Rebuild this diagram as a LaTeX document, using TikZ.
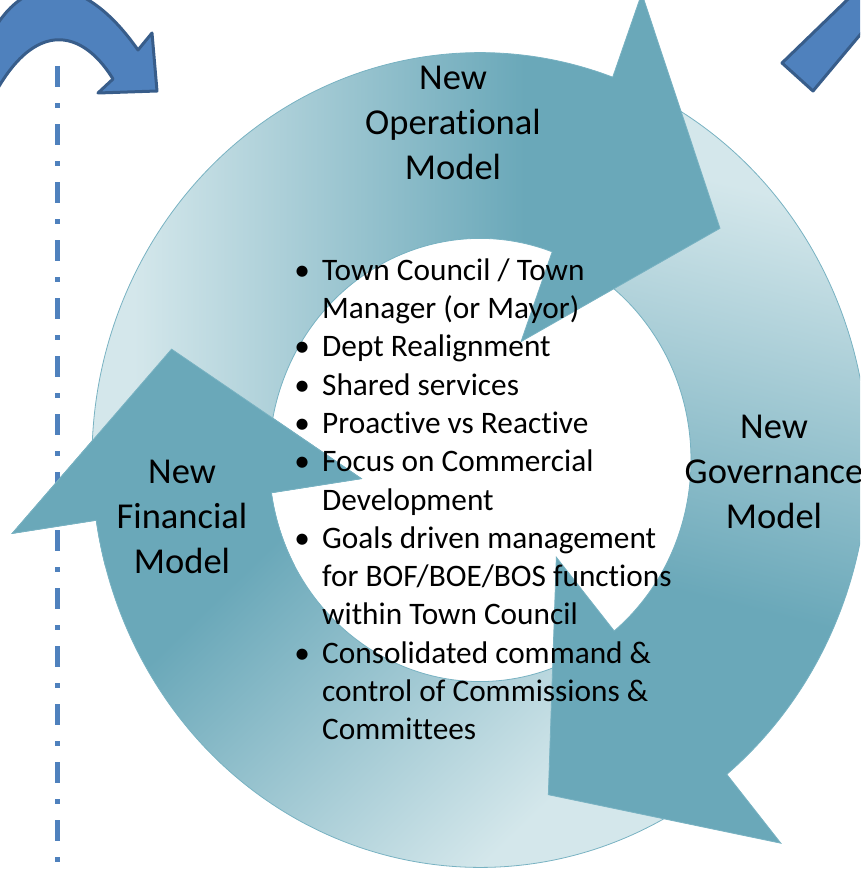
\documentclass[tikz,border=0pt]{standalone}
\usepackage{fontspec}
\setmainfont{Carlito}[Ligatures=NoCommon]
\usetikzlibrary{positioning}

\definecolor{ringlight}{RGB}{212,231,235}
\definecolor{ringteal}{RGB}{106,168,185}
\definecolor{ringedge}{RGB}{120,178,194}
\definecolor{sideblue}{RGB}{79,129,189}
\definecolor{sideedge}{RGB}{56,93,138}

\pgfdeclareverticalshading{arcfade}{100bp}{color(0bp)=(ringteal); color(40bp)=(ringteal); color(70bp)=(ringlight); color(100bp)=(ringlight)}

% one curved arrow of the cycle, #1 = angle of the head base
\newcommand{\ringarrow}[1]{%
  (#1+117:388) arc[start angle=#1+117, end angle=#1, radius=388]
  -- (#1:473) -- (#1-27.4:326) -- (#1:120) -- (#1:211)
  arc[start angle=#1, end angle=#1+117, radius=211] -- cycle}
\newcommand{\goalbullet}{\makebox[40pt]{\textbullet}}

\begin{document}
\begin{tikzpicture}[x=1pt, y=1pt,
  cyclearrow/.style={draw=ringedge, line width=0.8pt, shading=arcfade},
  modeltext/.style={font=\fontsize{36.5}{45}\selectfont, align=center, inner sep=0pt},
  bullets/.style={font=\fontsize{31.3}{38.3}\selectfont, inner sep=0pt},
  sidearrow/.style={fill=sideblue, draw=sideedge, line width=3pt, line join=round},
]
\useasboundingbox (0,0) rectangle (860,-875);
\clip (0,0) rectangle (860,-875);

% side arrows and timeline
\draw[sidearrow] (-20,-60) .. controls (10,25) and (75,40) .. (138,-50) -- (152,-33) -- (157,-91) -- (98,-93) -- (113,-79) .. controls (80,-25) and (25,-15) .. (-20,-125) -- cycle;
\draw[sidearrow] (782,-63) -- (813,-91) -- (885,-5) -- (875,27) -- cycle;
\draw[sideblue, line width=5pt, dash pattern=on 21pt off 16pt on 5pt off 16pt] (57,-66) -- (57,-880);

% the cycle
\begin{scope}[shift={(480,-460)}, yscale=1.05]
  \shadedraw[cyclearrow, shading angle=-136] \ringarrow{-171.5};
  \shadedraw[cyclearrow, shading angle=-14] \ringarrow{-50.5};
  \shadedraw[cyclearrow, shading angle=90] \ringarrow{70};
  \begin{scope}
    \clip (-490,-100) rectangle (-100,120);
    \shadedraw[cyclearrow, shading angle=-136] \ringarrow{-171.5};
  \end{scope}
\end{scope}

\node[modeltext] (operational) at (453,-123) {New\\Operational\\Model};
\node[modeltext] (financial) at (182,-517) {New\\Financial\\Model};
\node[modeltext] (governance) at (774,-472) {New\\Governance\\Model};

\node[bullets, anchor=north west] (goals) at (282,-253.2) {%
\begin{tabular}{@{}l@{}l@{}}
\goalbullet & Town Council / Town\\
 & Manager (or Mayor)\\
\goalbullet & Dept Realignment\\
\goalbullet & Shared services\\
\goalbullet & Proactive vs Reactive\\
\goalbullet & Focus on Commercial\\
 & Development\\
\goalbullet & Goals driven management\\
 & for BOF/BOE/BOS functions\\
 & within Town Council\\
\goalbullet & Consolidated command \&\\
 & control of Commissions \&\\
 & Committees
\end{tabular}};
\end{tikzpicture}
\end{document}
